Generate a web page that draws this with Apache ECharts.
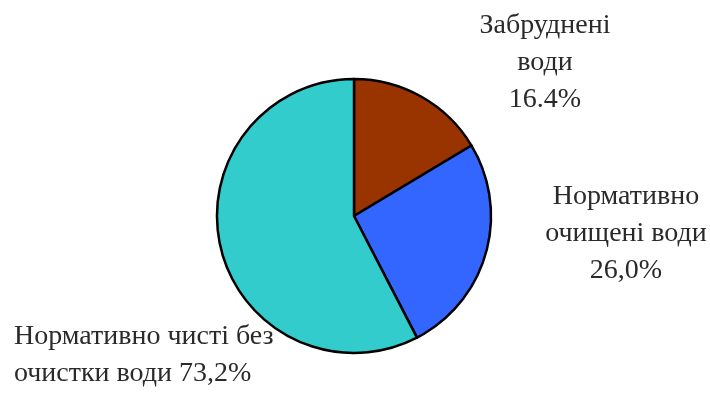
<!DOCTYPE html>
<html>
<head>
<meta charset="utf-8">
<script src="https://cdn.jsdelivr.net/npm/echarts@6/dist/echarts.min.js"></script>
<style>
    html, body { margin: 0; padding: 0; background: #fff; }
    #pie-chart { width: 710px; height: 394px; }
</style>
</head>
<body>
<div id="pie-chart"></div>
<script>
// slice data (drawn shares) and the label texts printed on the chart
let names = ['Забруднені\nводи', 'Нормативно\nочищені води', 'Нормативно чисті без\nочистки води'];
let values = [16.4, 26.0, 57.6];
let percentLabels = ['16.4%', '26,0%', '73,2%'];
let colors = ['#993300', '#3366ff', '#33cccc'];

// where each label sits (x, y of text anchor) and how it is aligned
let labelSpots = [
    { x: 545, y: 63, align: 'center' },
    { x: 626, y: 234, align: 'center' },
    { x: 14, y: 355, align: 'left' }
];

function addPieChart() {
    var dom = document.getElementById('pie-chart');
    var myChart = echarts.init(dom, null, { renderer: 'canvas' });

    let pieData = [];
    for (let i = 0; i < values.length; i++) {
        pieData.push({
            value: values[i],
            name: names[i],
            itemStyle: { color: colors[i] }
        });
    }

    var option = {
        backgroundColor: '#ffffff',
        animation: false,
        series: [
            {
                type: 'pie',
                center: [354, 216],
                radius: 137,
                startAngle: 90,
                clockwise: true,
                itemStyle: {
                    borderColor: '#000',
                    borderWidth: 2.5
                },
                label: {
                    show: true,
                    position: 'outside',
                    color: '#2a2a2a',
                    fontFamily: '"Liberation Serif", "Times New Roman", serif',
                    fontSize: 28,
                    lineHeight: 37,
                    overflow: 'none',
                    width: 400,
                    formatter: function (p) {
                        let sep = p.dataIndex === 2 ? ' ' : '\n';
                        return p.name + sep + percentLabels[p.dataIndex];
                    }
                },
                labelLine: { show: false },
                labelLayout: function (params) {
                    let s = labelSpots[params.dataIndex];
                    return {
                        x: s.x,
                        y: s.y,
                        align: s.align,
                        verticalAlign: 'middle'
                    };
                },
                emphasis: { disabled: true },
                data: pieData
            }
        ]
    };

    myChart.setOption(option);
    window.addEventListener('resize', myChart.resize);
}

addPieChart();
</script>
</body>
</html>
